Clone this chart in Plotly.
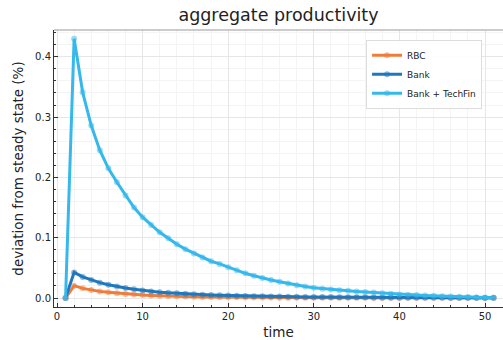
import plotly.graph_objects as go

time = list(range(1, 52))

rbc = [0.0, 0.0205, 0.0160, 0.0133, 0.0110, 0.0094, 0.0080, 0.0068, 0.0058, 0.0050,
       0.0043, 0.0037, 0.0032, 0.0028, 0.0024, 0.0021, 0.0018, 0.0016, 0.0014, 0.0012,
       0.0011, 0.0010, 0.0009, 0.0008, 0.0007, 0.0006, 0.0006, 0.0005, 0.0005, 0.0004,
       0.0004, 0.0004, 0.0003, 0.0003, 0.0003, 0.0003, 0.0002, 0.0002, 0.0002, 0.0002,
       0.0002, 0.0002, 0.0001, 0.0001, 0.0001, 0.0001, 0.0001, 0.0001, 0.0001, 0.0001, 0.0001]

bank = [0.0, 0.0425, 0.0350, 0.0300, 0.0255, 0.0220, 0.0190, 0.0165, 0.0145, 0.0125,
        0.0110, 0.0097, 0.0086, 0.0077, 0.0069, 0.0062, 0.0056, 0.0050, 0.0045, 0.0041,
        0.0037, 0.0034, 0.0031, 0.0028, 0.0026, 0.0024, 0.0022, 0.0020, 0.0018, 0.0017,
        0.0016, 0.0015, 0.0014, 0.0013, 0.0012, 0.0011, 0.0010, 0.00095, 0.0009, 0.00085,
        0.0008, 0.00077, 0.00074, 0.0007, 0.00066, 0.00062, 0.0006, 0.00057, 0.00054, 0.00052, 0.0005]

techfin = [0.0, 0.430, 0.341, 0.286, 0.245, 0.215, 0.192, 0.170, 0.150, 0.134,
           0.121, 0.109, 0.099, 0.089, 0.081, 0.074, 0.067, 0.061, 0.0565, 0.051,
           0.046, 0.041, 0.037, 0.033, 0.030, 0.027, 0.024, 0.021, 0.019, 0.017,
           0.0155, 0.014, 0.013, 0.012, 0.011, 0.010, 0.009, 0.008, 0.007, 0.006,
           0.0055, 0.005, 0.0043, 0.0037, 0.003, 0.0025, 0.002, 0.0015, 0.001, 0.0006, 0.0003]

series = [("RBC", rbc, "#EE7D3B"), ("Bank", bank, "#1F78BE"), ("Bank + TechFin", techfin, "#35B8EB")]

fig = go.Figure()
for name, vals, col in series:
    fig.add_trace(go.Scatter(
        x=time, y=vals, name=name, mode="lines+markers",
        line=dict(color=col, width=3),
        marker=dict(color=col, size=6, opacity=0.5, symbol="circle"),
    ))

font = "DejaVu Sans"
fig.update_layout(
    width=503, height=340,
    margin=dict(l=54, r=0, t=30, b=33),
    paper_bgcolor="white", plot_bgcolor="white",
    font=dict(family=font, color="#222222"),
    title=dict(text="aggregate productivity", x=0.5, xref="paper", xanchor="center",
               y=1 - 15 / 340, yanchor="middle", font=dict(size=17.5, family=font)),
    showlegend=True,
    legend=dict(x=0.695, y=0.965, xanchor="left", yanchor="top",
                bgcolor="rgba(255,255,255,0.9)", bordercolor="#DDDDDD", borderwidth=1,
                font=dict(size=9, family=font), tracegroupgap=0, itemwidth=30),
)
fig.update_xaxes(
    range=[-0.35, 52.1], tickvals=[0, 10, 20, 30, 40, 50],
    title=dict(text="time", font=dict(size=13.5), standoff=6),
    tickfont=dict(size=10), ticks="inside", ticklen=4, tickcolor="#333333",
    showline=True, linecolor="#333333", linewidth=1, mirror=False,
    showgrid=True, gridcolor="#E6E6E6", gridwidth=1, zeroline=False,
    minor=dict(dtick=2, showgrid=True, gridcolor="#F4F4F4", ticks="inside", ticklen=2, tickcolor="#333333"),
)
fig.update_yaxes(
    range=[-0.0149, 0.4444], tickvals=[0, 0.1, 0.2, 0.3, 0.4], tickformat=".1f",
    title=dict(text="deviation from steady state (%)", font=dict(size=13.5), standoff=8),
    tickfont=dict(size=10), ticks="inside", ticklen=4, tickcolor="#333333",
    showline=True, linecolor="#333333", linewidth=1, mirror=False,
    showgrid=True, gridcolor="#E6E6E6", gridwidth=1, zeroline=False,
    minor=dict(dtick=0.02, showgrid=True, gridcolor="#F4F4F4", ticks="inside", ticklen=2, tickcolor="#333333"),
)
fig.add_shape(type="line", xref="paper", yref="paper", x0=0, x1=1, y0=1, y1=1,
              line=dict(color="#999999", width=1))
fig.write_html("out.html", config={"displayModeBar": False},
               post_script="document.body.style.margin='0';document.body.style.overflow='hidden';")
